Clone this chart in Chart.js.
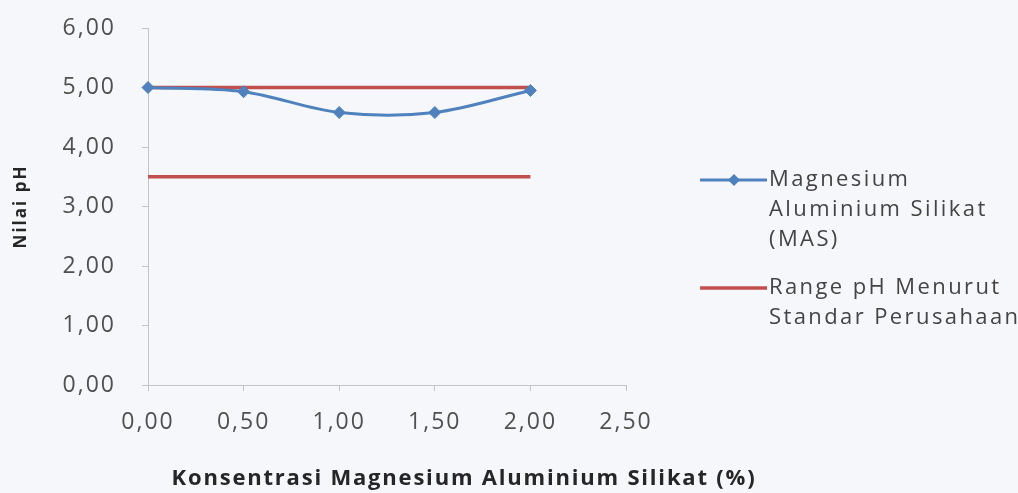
<!DOCTYPE html>
<html><head><meta charset="utf-8">
<script src="https://cdn.jsdelivr.net/npm/chart.js@4.4.1/dist/chart.umd.min.js"></script>
<style>html,body{margin:0;padding:0;background:#f5f7fb;} #wrap{width:1018px;height:493px;position:relative}</style>
</head><body><div id="wrap"><canvas id="c" width="1018" height="493"></canvas></div>
<script>
const concentrations = [0, 0.5, 1.0, 1.5, 2.0];
const masPH = [5.00, 4.93, 4.58, 4.58, 4.95];
const rangeX = [0, 2.0];
const rangeUpper = [5.0, 5.0];
const rangeLower = [3.5, 3.5];
const xTickLabels = ['0,00','0,50','1,00','1,50','2,00','2,50'];
const yTickLabels = ['0,00','1,00','2,00','3,00','4,00','5,00','6,00'];
const masName = ['Magnesium','Aluminium Silikat','(MAS)'];
const rangeName = ['Range pH Menurut','Standar Perusahaan'];
const xTitle = 'Konsentrasi Magnesium Aluminium Silikat (%)';
const yTitle = 'Nilai pH';

const BLUE = '#4F81BD', RED = '#C0504D';
const FONT = '"Open Sans", "DejaVu Sans", sans-serif';

const spacingPlugin = {
  id: 'spacing',
  beforeDraw(chart) { chart.ctx.letterSpacing = '2px'; }
};

const decorPlugin = {
  id: 'decor',
  afterDraw(chart) {
    const ctx = chart.ctx;
    ctx.save();
    // x axis title
    ctx.letterSpacing = '1.8px';
    ctx.font = 'bold 22px ' + FONT;
    ctx.fillStyle = '#262626';
    ctx.textAlign = 'center';
    ctx.textBaseline = 'middle';
    ctx.fillText(xTitle, 464, 479);
    // legend
    const items = [
      {ds: chart.data.datasets[0], lines: masName, y: 180},
      {ds: chart.data.datasets[1], lines: rangeName, y: 288}
    ];
    ctx.font = '22px ' + FONT;
    ctx.textAlign = 'left';
    ctx.letterSpacing = '2.4px';
    items.forEach(it => {
      ctx.strokeStyle = it.ds.borderColor;
      ctx.lineWidth = it.ds.borderWidth;
      ctx.beginPath(); ctx.moveTo(700, it.y); ctx.lineTo(767, it.y); ctx.stroke();
      if (it.ds.pointRadius > 0) {
        const r = it.ds.pointRadius;
        ctx.fillStyle = it.ds.backgroundColor;
        ctx.beginPath();
        ctx.moveTo(734, it.y - r); ctx.lineTo(734 + r, it.y); ctx.lineTo(734, it.y + r); ctx.lineTo(734 - r, it.y);
        ctx.closePath(); ctx.fill();
      }
      ctx.fillStyle = '#444';
      it.lines.forEach((t, i) => ctx.fillText(t, 769, it.y + i * 30));
    });
    ctx.restore();
  }
};

new Chart(document.getElementById('c'), {
  type: 'scatter',
  data: {
    datasets: [
      { label: masName.join(' '), data: concentrations.map((x, i) => ({x, y: masPH[i]})),
        showLine: true, borderColor: BLUE, backgroundColor: BLUE, borderWidth: 3,
        pointStyle: 'rectRot', pointRadius: 6, pointBorderWidth: 1, pointBorderColor: BLUE,
        tension: 0.33, clip: false },
      { label: rangeName.join(' '), data: rangeX.map((x, i) => ({x, y: rangeUpper[i]})),
        showLine: true, borderColor: RED, backgroundColor: RED, borderWidth: 3.5, pointRadius: 0, clip: false },
      { label: rangeName.join(' '), data: rangeX.map((x, i) => ({x, y: rangeLower[i]})),
        showLine: true, borderColor: RED, backgroundColor: RED, borderWidth: 3.5, pointRadius: 0, clip: false }
    ]
  },
  options: {
    responsive: false, animation: false, devicePixelRatio: 1,
    layout: { padding: { top: 28, right: 392, bottom: 0, left: 0 } },
    plugins: { legend: { display: false }, tooltip: { enabled: false } },
    scales: {
      x: {
        type: 'linear', min: 0, max: 2.5,
        afterFit(s) { s.height = 108; s.paddingLeft = 0; s.paddingRight = 0; },
        afterBuildTicks(s) { s.ticks = xTickLabels.map((_, i) => ({value: i * 0.5})); },
        ticks: { callback: (v, i) => xTickLabels[i], font: {family: FONT, size: 23}, color: '#505050', padding: 18, maxRotation: 0 },
        grid: { drawOnChartArea: false, tickLength: 6, color: '#c4c4c4' },
        border: { color: '#c4c4c4', width: 1 }
      },
      y: {
        min: 0, max: 6,
        afterFit(s) { s.width = 148; s.paddingTop = 0; s.paddingBottom = 0; },
        afterBuildTicks(s) { s.ticks = yTickLabels.map((_, i) => ({value: i})); },
        ticks: { callback: (v, i) => yTickLabels[i], font: {family: FONT, size: 23}, color: '#505050', padding: 26 },
        grid: { drawOnChartArea: false, tickLength: 6, color: '#c4c4c4' },
        border: { color: '#c4c4c4', width: 1 },
        title: { display: true, text: yTitle, font: {family: FONT, size: 17, weight: 'bold'}, color: '#262626', padding: {top: 11, bottom: 0} }
      }
    }
  },
  plugins: [spacingPlugin, decorPlugin]
});
</script></body></html>
